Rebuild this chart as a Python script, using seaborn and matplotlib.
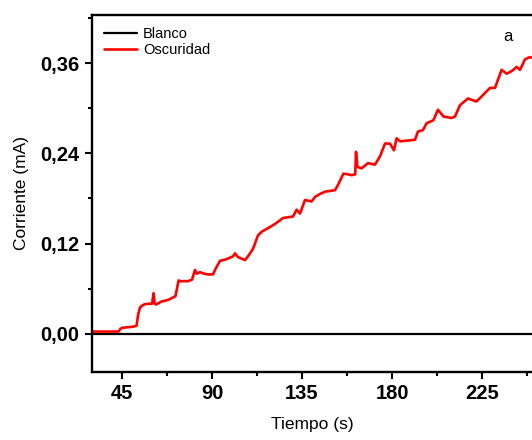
import numpy as np
import pandas as pd
import seaborn as sns
import matplotlib.pyplot as plt
from matplotlib.ticker import MultipleLocator, FuncFormatter

# Blanco: linea base en cero
blanco_t = [30, 250]
blanco_i = [0.0, 0.0]

# Oscuridad (t en s, I en mA)
osc_t = [30, 38, 42, 43.3, 44, 45, 49, 51.5, 52.3, 53, 54, 54.8, 56, 58, 60, 60.8, 61.3, 62,
         64.8, 68, 71.7, 73.3, 74, 78, 80, 81.5, 82.3, 84, 86, 88, 90.5, 91.5, 92.5, 94, 97,
         100.5, 101.5, 103, 106.5, 108, 110.5, 113, 115, 117, 119, 122, 125.5, 128, 130.5,
         132.3, 134, 136.5, 139.8, 141.5, 144, 146.5, 149, 151.5, 153, 155.7, 158, 159.8,
         161.6, 162, 162.7, 164.8, 168, 171.5, 174, 176.5, 179, 181, 182.3, 184, 188, 191.5,
         193, 195.5, 197.3, 200.7, 203, 205.7, 209.8, 211.5, 214, 218, 220, 222.3, 225.7,
         229, 231.5, 234.8, 237.3, 239, 240.7, 242.3, 244, 246.5, 249, 250]
osc_i = [0.003, 0.003, 0.003, 0.003, 0.006, 0.008, 0.009, 0.010, 0.011, 0.025, 0.035, 0.037,
         0.039, 0.040, 0.040, 0.054, 0.040, 0.039, 0.043, 0.045, 0.050, 0.071, 0.070, 0.070,
         0.072, 0.085, 0.080, 0.082, 0.080, 0.079, 0.079, 0.085, 0.090, 0.097, 0.099, 0.103,
         0.107, 0.102, 0.098, 0.103, 0.113, 0.131, 0.136, 0.139, 0.142, 0.147, 0.154, 0.155,
         0.156, 0.165, 0.160, 0.178, 0.176, 0.182, 0.186, 0.189, 0.190, 0.191, 0.198, 0.213,
         0.212, 0.211, 0.212, 0.242, 0.222, 0.220, 0.227, 0.225, 0.236, 0.253, 0.253, 0.244,
         0.260, 0.256, 0.257, 0.258, 0.269, 0.271, 0.280, 0.284, 0.298, 0.289, 0.287, 0.289,
         0.304, 0.313, 0.311, 0.309, 0.318, 0.327, 0.327, 0.351, 0.346, 0.348, 0.351, 0.355,
         0.351, 0.365, 0.368, 0.367]

sns.set_style("ticks", {'axes.edgecolor': 'black', 'text.color': 'black',
                        'xtick.color': 'black', 'ytick.color': 'black',
                        'axes.labelcolor': 'black'})
plt.rcParams['font.family'] = ['Liberation Sans', 'DejaVu Sans']

fig = plt.figure(figsize=(5.32, 4.40), dpi=100)
ax = fig.add_axes([0.173, 0.155, 0.827, 0.811])

df_b = pd.DataFrame({'t': blanco_t, 'i': blanco_i})
df_o = pd.DataFrame({'t': osc_t, 'i': osc_i})
sns.lineplot(data=df_b, x='t', y='i', color='black', linewidth=1.6, label='Blanco', ax=ax)
sns.lineplot(data=df_o, x='t', y='i', color='#ff0000', linewidth=1.9, label='Oscuridad', ax=ax)

ax.set_xlim(30, 250)
ax.set_ylim(-0.0505, 0.424)
ax.xaxis.set_major_locator(MultipleLocator(45))
ax.xaxis.set_minor_locator(MultipleLocator(22.5))
ax.yaxis.set_major_locator(MultipleLocator(0.12))
ax.yaxis.set_minor_locator(MultipleLocator(0.06))
ax.yaxis.set_major_formatter(FuncFormatter(lambda v, p: f"{v:.2f}".replace('.', ',')))

for lab in ax.get_xticklabels() + ax.get_yticklabels():
    lab.set_fontweight('bold')
ax.tick_params(which='major', direction='out', length=5, width=1.5, labelsize=14.5, pad=4,
               colors='black')
ax.tick_params(which='minor', direction='out', length=3, width=1.5, colors='black')

for s in ['left', 'bottom', 'top']:
    ax.spines[s].set_linewidth(1.7)
    ax.spines[s].set_color('black')
ax.spines['right'].set_visible(False)

ax.set_xlabel('Tiempo (s)', fontsize=12.5, labelpad=10, color='black')
ax.set_ylabel('Corriente (mA)', fontsize=12.5, labelpad=8, color='black')

leg = ax.legend(loc='upper left', frameon=False, fontsize=10.5, handlelength=2.3,
                handletextpad=0.4, labelspacing=0.15, borderaxespad=0.4,
                bbox_to_anchor=(0.0, 1.0))
for txt in leg.get_texts():
    txt.set_color('black')

ax.text(0.945, 0.94, 'a', transform=ax.transAxes, fontsize=12, ha='center', va='center',
        color='black')

fig.savefig('out.png', dpi=100)
